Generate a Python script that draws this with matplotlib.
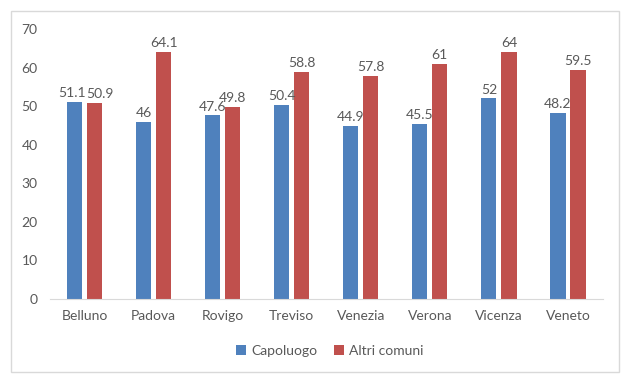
import matplotlib.pyplot as plt
import numpy as np
from matplotlib.patches import Rectangle

plt.rcParams['font.family'] = ['Lato', 'DejaVu Sans']

provinces = ["Belluno", "Padova", "Rovigo", "Treviso", "Venezia", "Verona", "Vicenza", "Veneto"]
capoluogo = [51.1, 46, 47.6, 50.4, 44.9, 45.5, 52, 48.2]
altri_comuni = [50.9, 64.1, 49.8, 58.8, 57.8, 61, 64, 59.5]
labels_cap = ["51.1", "46", "47.6", "50.4", "44.9", "45.5", "52", "48.2"]
labels_altri = ["50.9", "64.1", "49.8", "58.8", "57.8", "61", "64", "59.5"]

W, H = 627, 374
fig = plt.figure(figsize=(W / 100, H / 100), dpi=100)
ax = fig.add_axes([50 / W, (H - 299) / H, 552.5 / W, 270 / H])

text_col = "#595959"
x = np.arange(len(provinces))
bw = 0.22
off = 0.145
b1 = ax.bar(x - off, capoluogo, bw, color="#4F81BD", label="Capoluogo")
b2 = ax.bar(x + off, altri_comuni, bw, color="#C0504D", label="Altri comuni")
t1 = ax.bar_label(b1, labels=labels_cap, padding=2, fontsize=10, color=text_col)
t2 = ax.bar_label(b2, labels=labels_altri, padding=2, fontsize=10, color=text_col)
# Belluno labels sit side by side, nudge them apart like the original
t1[0].xyann = (-1.5, 2)
t2[0].xyann = (3.5, 2)

ax.set_xlim(-0.5, len(provinces) - 0.5)
ax.set_ylim(0, 70)
ax.set_yticks(range(0, 71, 10))
ax.set_xticks(x)
ax.set_xticklabels(provinces)
ax.tick_params(axis="both", length=0, labelsize=10, colors=text_col)
ax.tick_params(axis="y", pad=9)
ax.tick_params(axis="x", pad=8)
for s in ["top", "right", "left"]:
    ax.spines[s].set_visible(False)
ax.spines["bottom"].set_color("#D9D9D9")

fig.legend(handles=[b1, b2], loc="center", bbox_to_anchor=(330 / W, (H - 351) / H),
           ncol=2, frameon=False, fontsize=10, labelcolor=text_col,
           handlelength=0.7, handleheight=0.7, handletextpad=0.4, columnspacing=1.2)

fig.patches.append(Rectangle((11 / W, 2 / H), 608 / W, 361 / H, transform=fig.transFigure,
                             fill=False, edgecolor="#D9D9D9", linewidth=1))

fig.savefig("out.png", dpi=100)
